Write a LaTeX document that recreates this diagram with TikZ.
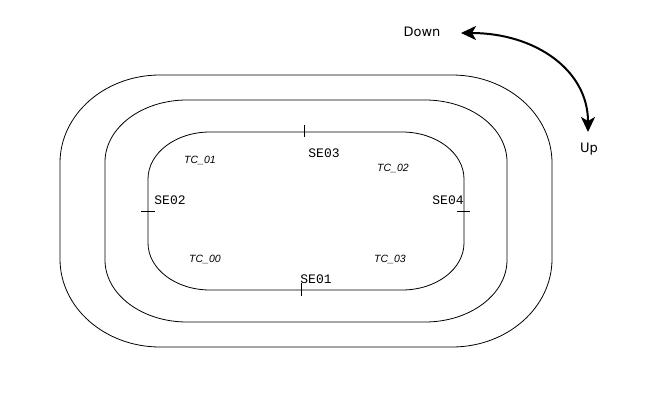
\documentclass[tikz,border=0pt]{standalone}
\usepackage{fontspec}
\setmainfont{DejaVu Sans}
\setmonofont{Liberation Mono}
\newfontfamily\tcfont{Liberation Sans}
\usetikzlibrary{arrows.meta}

\begin{document}
\begin{tikzpicture}[x=1pt,y=1pt,
	track/.style={draw,line width=0.8pt},
	se/.style={font=\fontsize{13}{13}\selectfont\ttfamily,inner sep=1pt},
	tc/.style={font=\fontsize{10.5}{10.5}\selectfont\tcfont\itshape,inner sep=1pt},
	dir/.style={font=\fontsize{13}{13}\selectfont,inner sep=1pt},
	turn/.style={line width=2pt,{Stealth[length=15pt,width=14pt,inset=4pt]}-{Stealth[length=15pt,width=14pt,inset=4pt]}}]
	\useasboundingbox (0,0) rectangle (650,400);
	% the three tracks
	\foreach \w/\h/\rx/\ry in {246/136/100/88,201/111/82/62,158/79/62/47}{
		\draw[track] (306+\w-\rx,189+\h) -- (306-\w+\rx,189+\h)
			arc[start angle=90,end angle=180,x radius=\rx pt,y radius=\ry pt] -- (306-\w,189-\h+\ry)
			arc[start angle=180,end angle=270,x radius=\rx pt,y radius=\ry pt] -- (306+\w-\rx,189-\h)
			arc[start angle=270,end angle=360,x radius=\rx pt,y radius=\ry pt] -- (306+\w,189+\h-\ry)
			arc[start angle=0,end angle=90,x radius=\rx pt,y radius=\ry pt] -- cycle;
	}
	% section marks
	\draw (304,275) -- (304,263);
	\draw (301,117) -- (301,104);
	\draw (141,189) -- (155,189);
	\draw (457,189) -- (470,189);
	\node[se] (se03) at (324,247) {SE03};
	\node[se] (se02) at (170,200) {SE02};
	\node[se] (se04) at (448,200) {SE04};
	\node[se] (se01) at (316,121) {SE01};
	\node[tc] (tc01) at (200,240) {TC\_01};
	\node[tc] (tc02) at (393,232) {TC\_02};
	\node[tc] (tc00) at (205,141) {TC\_00};
	\node[tc] (tc03) at (390,141) {TC\_03};
	\node[dir] (down) at (422,368) {Down};
	\node[dir] (up) at (589,251) {Up};
	\coordinate (dtip) at (461,367);
	\coordinate (utip) at (588,268);
	\draw[turn] (dtip) .. controls (535,367) and (588,330) .. (utip);
\end{tikzpicture}
\end{document}
